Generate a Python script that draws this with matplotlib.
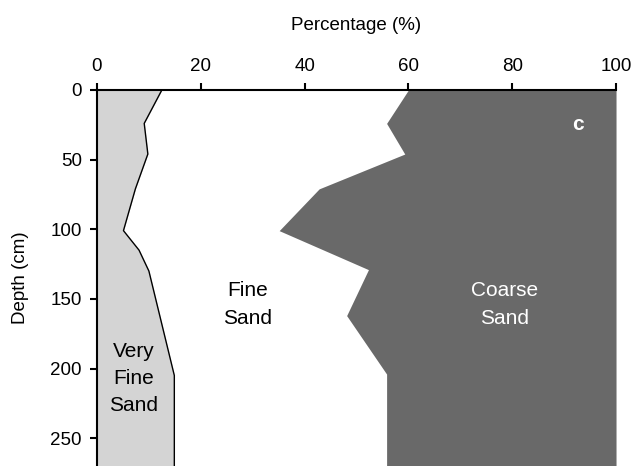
import matplotlib.pyplot as plt

plt.rcParams['font.family'] = ['Liberation Sans', 'DejaVu Sans']

# very fine sand: cumulative % from 0 (boundary with fine sand)
depth_vf = [0, 24, 46, 71, 101, 115, 130, 205, 270]
very_fine = [12.5, 9.1, 9.8, 7.4, 5.1, 8.1, 10.0, 14.9, 14.9]

# coarse sand: boundary between fine and coarse (coarse goes up to 100)
depth_c = [0, 24, 46, 71, 101, 129, 162, 204, 270]
coarse_edge = [60.0, 55.8, 59.3, 42.8, 35.1, 52.3, 48.1, 55.8, 55.8]

fig = plt.figure(figsize=(6.36, 4.66), dpi=100)
ax = fig.add_axes([0.1525, 0.0, 0.8161, 0.8069])

ax.fill_betweenx(depth_vf, 0, very_fine, color="#d4d4d4", linewidth=0)
ax.plot(very_fine, depth_vf, color="black", linewidth=1.0)
ax.fill_betweenx(depth_c, coarse_edge, 100, color="#696969", linewidth=0)

ax.set_xlim(0, 100)
ax.set_ylim(270, 0)
ax.xaxis.tick_top()
ax.xaxis.set_label_position("top")
ax.set_xticks([0, 20, 40, 60, 80, 100])
ax.set_yticks([0, 50, 100, 150, 200, 250])
ax.tick_params(axis="both", direction="out", length=5, width=1.5,
               labelsize=13.5, pad=6)
ax.set_xlabel("Percentage (%)", fontsize=13.5, labelpad=20)
ax.set_ylabel("Depth (cm)", fontsize=13.5, labelpad=15)

for side in ["right", "bottom"]:
    ax.spines[side].set_visible(False)
for side in ["top", "left"]:
    ax.spines[side].set_linewidth(1.5)
ax.set_zorder(1)

ax.text(7.1, 207, "Very\nFine\nSand", ha="center", va="center",
        fontsize=15, linespacing=1.55)
ax.text(29.1, 154, "Fine\nSand", ha="center", va="center",
        fontsize=15, linespacing=1.55)
ax.text(78.5, 154, "Coarse\nSand", ha="center", va="center",
        fontsize=15, linespacing=1.55, color="white")
ax.text(92.6, 24.6, "c", ha="center", va="center", fontsize=15,
        fontweight="bold", color="white")

fig.savefig("out.png", dpi=100)
